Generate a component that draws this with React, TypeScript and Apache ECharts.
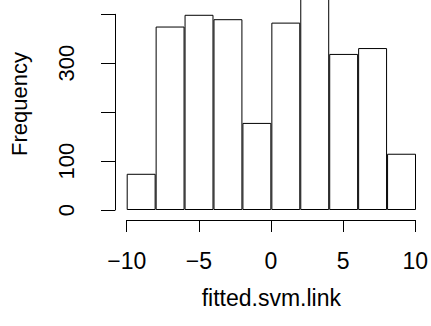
import React, { useEffect, useRef } from "react";
import * as echarts from "echarts";

const binLabels = ["-10–-8", "-8–-6", "-6–-4", "-4–-2", "-2–0", "0–2", "2–4", "4–6", "6–8", "8–10"];
const counts = [74, 375, 399, 390, 178, 383, 470, 319, 331, 115];
const xTicks = { min: -10, max: 10, interval: 5 };
const yTicks = { min: 0, max: 400, interval: 100 };
const yShownLabels = [0, 100, 300];
const xTitle = "fitted.svm.link";
const yTitle = "Frequency";

const FONT = "'Liberation Sans', Arial, Helvetica, sans-serif";
const OFF = 30;

export default function App() {
  const ref = useRef<HTMLDivElement>(null);
  useEffect(() => {
    if (!ref.current) return;
    const chart = echarts.init(ref.current, undefined, { renderer: "svg" });
    const pxPerUnit = (210 - 14.3) / 400;
    const barMax = (210 + OFF) / pxPerUnit;
    const minus = (v: number) => (v < 0 ? "\u2212" + Math.abs(v) : String(v));
    chart.setOption({
      animation: false,
      backgroundColor: "#ffffff",
      grid: [
        { left: 126.7, width: 289.3, top: 0, height: 210 + OFF },
        { left: 115, width: 1, top: 14.3 + OFF, height: 195.7 },
        { left: 126.7, width: 289.3, top: 219 + OFF, height: 1 },
      ],
      xAxis: [
        { gridIndex: 0, type: "category", data: binLabels, show: false, boundaryGap: true },
        { gridIndex: 1, type: "value", show: false },
        {
          gridIndex: 2,
          type: "value",
          min: xTicks.min,
          max: xTicks.max,
          interval: xTicks.interval,
          position: "bottom",
          axisLine: { show: true, onZero: false, lineStyle: { color: "#000", width: 1 } },
          axisTick: { show: true, length: 12, lineStyle: { color: "#000", width: 1 } },
          splitLine: { show: false },
          axisLabel: {
            show: true,
            margin: 29,
            color: "#000",
            fontSize: 23,
            fontFamily: FONT,
            formatter: (v: number) => minus(v),
          },
        },
      ],
      yAxis: [
        { gridIndex: 0, type: "value", min: 0, max: barMax, show: false },
        {
          gridIndex: 1,
          type: "value",
          min: yTicks.min,
          max: yTicks.max,
          interval: yTicks.interval,
          position: "left",
          axisLine: { show: true, onZero: false, lineStyle: { color: "#000", width: 1 } },
          axisTick: { show: true, length: 14, lineStyle: { color: "#000", width: 1 } },
          splitLine: { show: false },
          axisLabel: {
            show: true,
            rotate: 90,
            margin: 38,
            color: "#000",
            fontSize: 22,
            fontFamily: FONT,
            formatter: (v: number) => (yShownLabels.includes(v) ? String(v) : ""),
          },
        },
        { gridIndex: 2, type: "value", show: false },
      ],
      graphic: [
        {
          type: "text",
          x: 271.3,
          y: 298 + OFF,
          style: {
            text: xTitle,
            fill: "#000",
            font: `23px ${FONT}`,
            textAlign: "center",
            textVerticalAlign: "middle",
          },
        },
        {
          type: "text",
          x: 19,
          y: 104 + OFF,
          rotation: Math.PI / 2,
          style: {
            text: yTitle,
            fill: "#000",
            font: `22px ${FONT}`,
            textAlign: "center",
            textVerticalAlign: "middle",
          },
        },
      ],
      series: [
        {
          type: "bar",
          xAxisIndex: 0,
          yAxisIndex: 0,
          data: counts,
          barCategoryGap: "0%",
          clip: true,
          itemStyle: { color: "#ffffff", borderColor: "#000000", borderWidth: 1 },
          emphasis: { disabled: true },
        },
      ],
    });
    return () => chart.dispose();
  }, []);
  return (
    <div
      ref={ref}
      style={{ position: "absolute", left: 0, top: -OFF, width: 431, height: 326 + OFF, background: "#fff" }}
    />
  );
}
